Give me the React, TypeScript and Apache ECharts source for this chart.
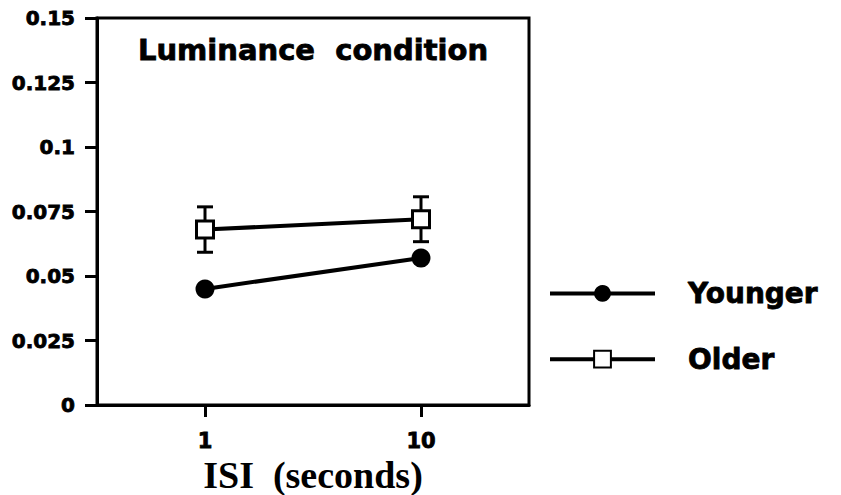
import React, { useEffect, useRef } from "react";
import * as echarts from "echarts";

const isiSeconds = [1, 10];
const youngerValues = [0.045, 0.057];
const olderValues = [0.068, 0.072];
const olderErrors = [0.0088, 0.0087];
const yTicks = [0, 0.025, 0.05, 0.075, 0.1, 0.125, 0.15];

export default function App() {
  const ref = useRef<HTMLDivElement>(null);
  useEffect(() => {
    if (!ref.current) return;
    const chart = echarts.init(ref.current, null, { renderer: "svg" });
    const xs = isiSeconds.map((v) => Math.log10(v));
    const black = "#000";
    const heavy = { textBorderColor: black, textBorderWidth: 0.8 };
    const tickFont = {
      fontFamily: "DejaVu Sans",
      fontWeight: "bold" as const,
      fontSize: 20,
      color: black,
      ...heavy,
    };
    chart.setOption({
      animation: false,
      backgroundColor: "#fff",
      title: {
        text: "Luminance  condition",
        left: 133,
        top: 30,
        textStyle: { fontFamily: "DejaVu Sans", fontWeight: "bold", fontSize: 29, color: black, ...heavy },
      },
      legend: {
        data: ["Younger", "Older"],
        orient: "vertical",
        left: 543,
        top: 274,
        itemWidth: 105,
        itemHeight: 21,
        itemGap: 37,
        lineStyle: { width: 4, color: black },
        textStyle: {
          fontFamily: "DejaVu Sans",
          fontWeight: "bold",
          fontSize: 28,
          color: black,
          ...heavy,
          padding: [0, 0, 0, 28],
        },
      },
      grid: {
        left: 97,
        right: 312,
        top: 18,
        bottom: 90,
        outerBoundsMode: "none",
        containLabel: false,
        show: true,
        borderColor: black,
        borderWidth: 3,
        backgroundColor: "transparent",
      },
      xAxis: {
        type: "value",
        min: -0.5,
        max: 1.5,
        name: "ISI  (seconds)",
        nameLocation: "middle",
        nameGap: 40,
        nameTextStyle: { fontFamily: "Liberation Serif", fontWeight: "bold", fontSize: 38, color: black },
        axisLine: { show: true, onZero: false, lineStyle: { color: black, width: 3 } },
        axisTick: { show: true, length: 12, customValues: xs, lineStyle: { color: black, width: 3 } },
        axisLabel: {
          ...tickFont,
          fontSize: 21,
          margin: 25,
          customValues: xs,
          formatter: (v: number) => String(Math.round(Math.pow(10, v))),
        },
        splitLine: { show: false },
      },
      yAxis: {
        type: "value",
        min: 0,
        max: 0.15,
        interval: 0.025,
        axisLine: { show: true, onZero: false, lineStyle: { color: black, width: 3 } },
        axisTick: { show: true, length: 12, lineStyle: { color: black, width: 3 } },
        axisLabel: {
          ...tickFont,
          margin: 22,
          formatter: (v: number) => {
            const m = yTicks.find((t) => Math.abs(t - v) < 1e-9);
            return String(m !== undefined ? m : v);
          },
        },
        splitLine: { show: false },
      },
      series: [
        {
          type: "custom",
          name: "olderErr",
          z: 1,
          silent: true,
          renderItem: (params: any, api: any) => {
            const x = api.value(0);
            const lo = api.value(1);
            const hi = api.value(2);
            const pHi = api.coord([x, hi]);
            const pLo = api.coord([x, lo]);
            const half = 8;
            const st = { stroke: black, lineWidth: 3 };
            return {
              type: "group",
              children: [
                { type: "line", shape: { x1: pHi[0], y1: pHi[1], x2: pLo[0], y2: pLo[1] }, style: st },
                { type: "line", shape: { x1: pHi[0] - half, y1: pHi[1], x2: pHi[0] + half, y2: pHi[1] }, style: st },
                { type: "line", shape: { x1: pLo[0] - half, y1: pLo[1], x2: pLo[0] + half, y2: pLo[1] }, style: st },
              ],
            };
          },
          data: xs.map((x, i) => [x, olderValues[i] - olderErrors[i], olderValues[i] + olderErrors[i]]),
        },
        {
          type: "line",
          name: "Younger",
          z: 3,
          data: xs.map((x, i) => [x, youngerValues[i]]),
          symbol: "circle",
          symbolSize: 19,
          lineStyle: { color: black, width: 4 },
          itemStyle: { color: black, borderColor: black, borderWidth: 0 },
        },
        {
          type: "line",
          name: "Older",
          z: 3,
          data: xs.map((x, i) => [x, olderValues[i]]),
          symbol: "rect",
          symbolSize: 17,
          lineStyle: { color: black, width: 4 },
          itemStyle: { color: "#fff", borderColor: black, borderWidth: 3 },
        },
      ],
    });
    return () => chart.dispose();
  }, []);
  return <div ref={ref} style={{ width: 841, height: 495, position: "absolute", left: 0, top: 0 }} />;
}
